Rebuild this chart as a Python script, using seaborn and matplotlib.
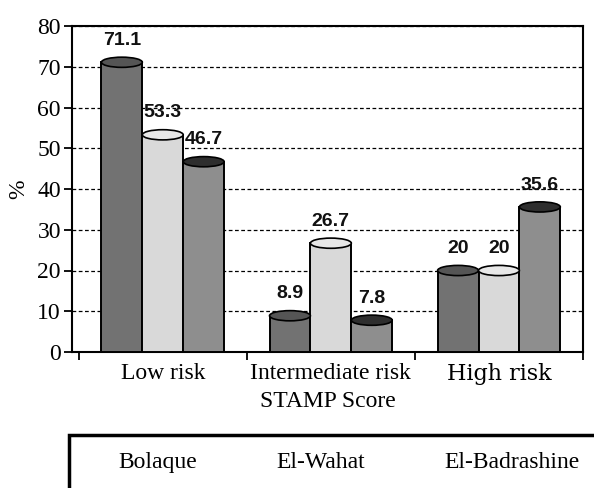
import numpy as np
import pandas as pd
import seaborn as sns
import matplotlib.pyplot as plt
from matplotlib.patches import Ellipse

# data
categories = ['Low risk', 'Intermediate risk', 'High risk']
sites = ['Bolaque', 'El-Wahat', 'El-Badrashine']
bolaque = [71.1, 8.9, 20]
el_wahat = [53.3, 26.7, 20]
el_badrashine = [46.7, 7.8, 35.6]
value_text = [['71.1', '8.9', '20'], ['53.3', '26.7', '20'], ['46.7', '7.8', '35.6']]

df = pd.DataFrame({
    'score': categories * 3,
    'site': [s for s in sites for _ in categories],
    'pct': bolaque + el_wahat + el_badrashine,
})

sns.set_theme(style='white')
plt.rcParams['font.family'] = ['Liberation Serif', 'DejaVu Serif']

face = ['#727272', '#d9d9d9', '#8e8e8e']
tops = ['#555555', '#e8e8e8', '#2e2e2e']

fig = plt.figure(figsize=(5.94, 4.88), dpi=100)
ax = fig.add_axes([72 / 594, 136 / 488, 511 / 594, 326 / 488])

sns.barplot(data=df, x='score', y='pct', hue='site', palette=face,
            order=categories, hue_order=sites, width=0.73, gap=0,
            edgecolor='black', linewidth=1.4, errorbar=None, ax=ax,
            legend=True, zorder=3)

ax.set_ylim(0, 80)
ax.set_xlim(-0.54, 2.46)
ax.set_yticks(range(0, 81, 10))
ax.yaxis.grid(True, color='black', linestyle=(0, (3, 2)), linewidth=0.9)
ax.set_axisbelow(True)
for sp in ax.spines.values():
    sp.set_color('black')
    sp.set_linewidth(1.5)

# cylinder tops and value labels
ell_h = 2.5
for i, cont in enumerate(ax.containers):
    for j, bar in enumerate(cont):
        xc = bar.get_x() + bar.get_width() / 2
        top = bar.get_height()
        ax.add_patch(Ellipse((xc, top), bar.get_width(), ell_h, facecolor=tops[i],
                             edgecolor='black', linewidth=1.2, zorder=4))
        ax.annotate(value_text[i][j], (xc, top + ell_h / 2), xytext=(0, 6),
                    textcoords='offset points', ha='center', va='bottom',
                    fontsize=14, fontweight='bold', family='Liberation Sans',
                    color='#111111')

ax.tick_params(axis='y', which='major', left=True, length=6, width=1.3,
               color='black', labelcolor='black', labelsize=17, pad=2,
               labelfontfamily='Liberation Serif')
ax.set_xticks([0, 1, 2])
ax.set_xticklabels(categories)
ax.set_xticks([-0.5, 0.5, 1.5, 2.5], minor=True)
ax.tick_params(axis='x', which='major', length=0, labelsize=17, pad=8,
               labelcolor='black', labelfontfamily='Liberation Serif')
ax.tick_params(axis='x', which='minor', bottom=True, length=6, width=1.3, color='black')
ax.get_xticklabels()[2].set_fontfamily('DejaVu Serif')
ax.get_xticklabels()[2].set_fontsize(16)

ax.set_xlabel('STAMP Score', fontsize=17, color='black', labelpad=4)
ax.set_ylabel('%', fontsize=17, color='black', labelpad=6, family='Liberation Serif')

handles, labels = ax.get_legend_handles_labels()
ax.get_legend().remove()
leg = fig.legend(handles, labels, loc='upper left', bbox_to_anchor=(69 / 594, 1 - 435 / 488),
                 ncol=3, fontsize=17, frameon=True, fancybox=False, framealpha=1,
                 borderpad=0.7, handlelength=0.9, handletextpad=0.5,
                 columnspacing=1.95, borderaxespad=0)
leg.get_frame().set_edgecolor('black')
leg.get_frame().set_linewidth(2.5)
for h in leg.legend_handles:
    h.set_visible(False)
for t in leg.get_texts():
    t.set_color('black')

fig.savefig('out.png', dpi=100)
